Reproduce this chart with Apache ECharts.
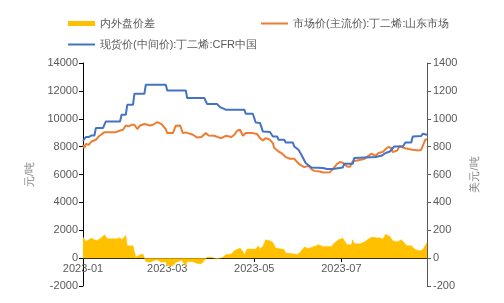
<!DOCTYPE html>
<html>
<head>
<meta charset="utf-8">
<script src="https://cdn.jsdelivr.net/npm/echarts@6/dist/echarts.min.js"></script>
<style>
html,body{margin:0;padding:0;background:#fff;}
#chart{width:504px;height:303px;}
</style>
</head>
<body>
<div id="chart"></div>
<script>
// ---- Data ----
var seriesNames = ['内外盘价差', '市场价(主流价):丁二烯:山东市场', '现货价(中间价):丁二烯:CFR中国'];
var tickLabels = ['2023-01', '2023-03', '2023-05', '2023-07'];

// 内外盘价差 (元/吨)
var spreadDates = ['2023-01-01','2023-01-03','2023-01-07','2023-01-09','2023-01-11','2023-01-14','2023-01-16','2023-01-18','2023-01-25','2023-01-27','2023-01-28','2023-01-31',
'2023-02-01','2023-02-05','2023-02-07','2023-02-10','2023-02-12','2023-02-14','2023-02-17','2023-02-20','2023-02-22','2023-02-25','2023-02-28',
'2023-03-01','2023-03-05','2023-03-07','2023-03-11','2023-03-12','2023-03-14','2023-03-15','2023-03-19','2023-03-22','2023-03-25','2023-03-27','2023-03-29',
'2023-04-01','2023-04-02','2023-04-05','2023-04-09','2023-04-11','2023-04-15','2023-04-17','2023-04-21','2023-04-23','2023-04-24','2023-04-26',
'2023-05-02','2023-05-04','2023-05-05','2023-05-07','2023-05-09','2023-05-12','2023-05-14','2023-05-16','2023-05-20','2023-05-22','2023-05-23','2023-05-28','2023-05-31',
'2023-06-02','2023-06-05','2023-06-08','2023-06-11','2023-06-15','2023-06-18','2023-06-24','2023-06-26','2023-06-29',
'2023-07-02','2023-07-03','2023-07-05','2023-07-08','2023-07-09','2023-07-10','2023-07-14','2023-07-17','2023-07-21','2023-07-23','2023-07-26','2023-07-28','2023-07-30',
'2023-08-01','2023-08-04','2023-08-06','2023-08-09','2023-08-12','2023-08-16','2023-08-19','2023-08-22','2023-08-25','2023-08-27','2023-08-30'];
var spreadValues = [1510,1200,1435,1315,1270,1480,1675,1390,1390,1460,1315,1630,
885,885,70,240,290,-240,-290,-170,-120,-290,-265,
-530,-550,-310,-145,-70,-550,-240,-265,-385,-410,-170,70,
70,-25,-70,70,240,290,525,720,480,240,650,
650,885,650,840,1315,1245,1125,720,650,600,360,310,265,
410,790,695,790,960,840,840,1075,1315,
1435,1270,960,960,1315,1030,1030,1150,1435,1510,1435,1460,1365,
1720,1555,1245,1150,1315,885,885,600,525,600,1125];

// 市场价(主流价):丁二烯:山东市场 (元/吨)
var shandongDates = ['2023-01-01','2023-01-02','2023-01-03','2023-01-05','2023-01-07','2023-01-08','2023-01-10','2023-01-12','2023-01-16','2023-01-24','2023-01-27','2023-01-29','2023-01-31',
'2023-02-02','2023-02-04','2023-02-06','2023-02-08','2023-02-10','2023-02-13','2023-02-17','2023-02-19','2023-02-22','2023-02-25','2023-02-28',
'2023-03-01','2023-03-05','2023-03-07','2023-03-10','2023-03-12','2023-03-14','2023-03-19','2023-03-22','2023-03-25','2023-03-28','2023-03-30',
'2023-04-03','2023-04-06','2023-04-08','2023-04-11','2023-04-15','2023-04-17','2023-04-19','2023-04-21','2023-04-23','2023-04-25','2023-04-30',
'2023-05-03','2023-05-05','2023-05-07','2023-05-09','2023-05-12','2023-05-14','2023-05-15','2023-05-18','2023-05-20','2023-05-23','2023-05-26','2023-05-29','2023-05-31',
'2023-06-02','2023-06-05','2023-06-08','2023-06-10','2023-06-12','2023-06-16','2023-06-18','2023-06-23','2023-06-25','2023-06-28','2023-06-30',
'2023-07-02','2023-07-05','2023-07-07','2023-07-09','2023-07-12','2023-07-17','2023-07-20','2023-07-22','2023-07-25','2023-07-27','2023-07-30',
'2023-08-01','2023-08-03','2023-08-05','2023-08-06','2023-08-09','2023-08-11','2023-08-14','2023-08-17','2023-08-20','2023-08-24','2023-08-26','2023-08-27','2023-08-29','2023-08-30'];
var shandongValues = [8130,7900,8200,8130,8370,8250,8490,8730,9040,9040,9160,9210,9520,
9450,9570,9570,9260,9520,9620,9520,9570,9760,9620,9260,
8970,8970,9500,9520,8970,9020,8850,8650,8690,8970,8800,
8780,8660,8610,8780,8690,8850,9140,9210,8780,8970,8970,
8900,8610,8440,8610,8490,8250,7900,7650,7540,7250,7130,7130,6890,
6700,6530,6620,6390,6260,6220,6150,6170,6390,6770,6890,
6840,6580,6550,6940,7010,7110,7340,7490,7340,7540,7610,
7830,7970,7900,7610,7710,8060,7900,7830,7780,7730,7780,8060,8540,8490];

// 现货价(中间价):丁二烯:CFR中国 (美元/吨)
var cfrDates = ['2023-01-01','2023-01-02','2023-01-03','2023-01-05','2023-01-07','2023-01-09','2023-01-10','2023-01-15','2023-01-17','2023-01-27','2023-01-28','2023-01-31',
'2023-02-01','2023-02-05','2023-02-06','2023-02-13','2023-02-14','2023-02-28',
'2023-03-01','2023-03-14','2023-03-15','2023-03-27','2023-03-29',
'2023-04-05','2023-04-07','2023-04-11','2023-04-24','2023-04-25','2023-04-30',
'2023-05-02','2023-05-05','2023-05-07','2023-05-12','2023-05-14','2023-05-17','2023-05-18','2023-05-22','2023-05-23','2023-05-28','2023-05-29',
'2023-06-01','2023-06-03','2023-06-06','2023-06-10','2023-06-18','2023-06-21','2023-06-25','2023-06-26',
'2023-07-02','2023-07-03','2023-07-09','2023-07-10','2023-07-25','2023-07-29',
'2023-08-01','2023-08-04','2023-08-07','2023-08-13','2023-08-15','2023-08-19','2023-08-20','2023-08-26','2023-08-27','2023-08-30'];
var cfrValues = [842,850,869,869,880,880,933,933,981,981,1029,1029,
1100,1100,1179,1179,1244,1244,
1203,1203,1149,1149,1105,
1105,1084,1065,1065,1036,1036,
973,970,909,905,873,873,849,849,830,830,801,
777,742,682,650,646,639,639,650,
650,677,677,718,725,734,
754,765,801,801,830,830,873,876,892,885];

// ---- Build ----
function toTime(s) { var p = s.split('-'); return new Date(+p[0], +p[1] - 1, p[2] ? +p[2] : 1).getTime(); }
function zip(d, v) { return d.map(function (x, i) { return [toTime(x), v[i]]; }); }
var tickValues = tickLabels.map(toTime);

var textColor = '#595959';
var font = 'Liberation Sans, Arial, sans-serif';
function plain(v) { return String(v); }

var chart = echarts.init(document.getElementById('chart'), null, {renderer: 'canvas'});
chart.setOption({
  animation: false,
  backgroundColor: '#fff',
  textStyle: {fontFamily: font},
  grid: {left: 83, right: 77, top: 63, bottom: 17, containLabel: false},
  legend: [
    {data: [seriesNames[0]], left: 63, top: 13, icon: 'rect', itemWidth: 27, itemHeight: 5, itemGap: 5,
     textStyle: {color: textColor, fontSize: 11, fontFamily: font}},
    {data: [seriesNames[1]], left: 256, top: 13, icon: 'rect', itemWidth: 27, itemHeight: 2,
     textStyle: {color: textColor, fontSize: 11, fontFamily: font}},
    {data: [seriesNames[2]], left: 63, top: 34, icon: 'rect', itemWidth: 27, itemHeight: 2,
     textStyle: {color: textColor, fontSize: 11, fontFamily: font}}
  ],
  xAxis: {
    type: 'value',
    position: 'bottom',
    offset: -28,
    min: toTime('2023-01-01'),
    max: toTime('2023-08-30'),
    axisLine: {show: true, onZero: false, lineStyle: {color: '#000', width: 1}},
    axisTick: {show: true, length: 4, customValues: tickValues, lineStyle: {color: '#000'}},
    axisLabel: {
      customValues: tickValues,
      showMinLabel: true, showMaxLabel: true,
      color: textColor, fontSize: 11, fontFamily: font, margin: 5,
      formatter: function (val) {
        var i = tickValues.indexOf(val);
        return i >= 0 ? tickLabels[i] : '';
      }
    },
    splitLine: {show: false}
  },
  yAxis: [
    {
      type: 'value', min: -2000, max: 14000, interval: 2000,
      name: '元/吨', nameLocation: 'middle', nameRotate: 90, nameGap: 48,
      nameTextStyle: {color: '#7f7f7f', fontSize: 11, fontFamily: font},
      axisLine: {show: true, onZero: false, lineStyle: {color: '#000'}},
      axisTick: {show: true, length: 4, lineStyle: {color: '#000'}},
      axisLabel: {color: textColor, fontSize: 11, fontFamily: font, margin: 5, formatter: plain},
      splitLine: {show: false}
    },
    {
      type: 'value', min: -200, max: 1400, interval: 200,
      name: '美元/吨', nameLocation: 'middle', nameRotate: 90, nameGap: 42,
      nameTextStyle: {color: '#7f7f7f', fontSize: 11, fontFamily: font},
      axisLine: {show: true, onZero: false, lineStyle: {color: '#595959'}},
      axisTick: {show: true, length: 4, lineStyle: {color: '#595959'}},
      axisLabel: {color: textColor, fontSize: 11, fontFamily: font, margin: 6, formatter: plain},
      splitLine: {show: false}
    }
  ],
  series: [
    {
      name: seriesNames[0], type: 'line', yAxisIndex: 0, symbol: 'none',
      data: zip(spreadDates, spreadValues),
      itemStyle: {color: '#FFC000'},
      lineStyle: {width: 0.5, color: '#FFC000'},
      areaStyle: {color: '#FFC000', opacity: 1, origin: 'auto'},
      z: 1
    },
    {
      name: seriesNames[1], type: 'line', yAxisIndex: 0, symbol: 'none',
      data: zip(shandongDates, shandongValues),
      itemStyle: {color: '#ED7D31'},
      lineStyle: {width: 2, color: '#ED7D31'},
      z: 2
    },
    {
      name: seriesNames[2], type: 'line', yAxisIndex: 1, symbol: 'none',
      data: zip(cfrDates, cfrValues),
      itemStyle: {color: '#4472C4'},
      lineStyle: {width: 2, color: '#4472C4'},
      z: 3
    }
  ]
});
</script>
</body>
</html>
